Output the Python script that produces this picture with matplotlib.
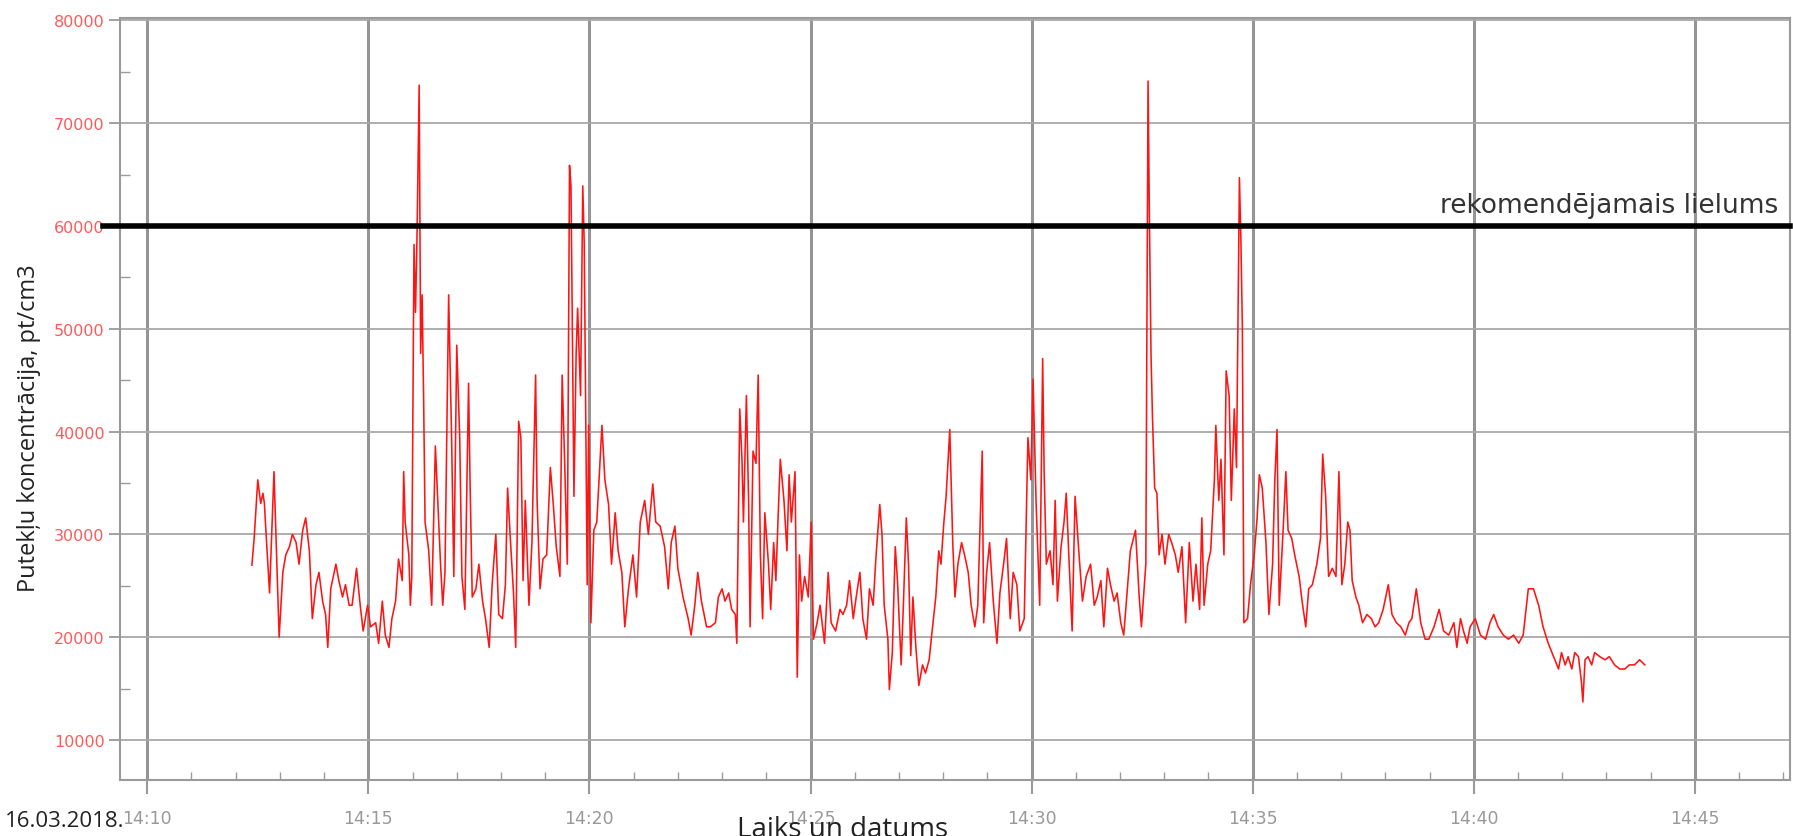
import matplotlib
matplotlib.use("Agg")
import matplotlib.pyplot as plt
import matplotlib.dates as mdates
import pandas as pd

# dust concentration log, 16.03.2018 - time as seconds after 14:00:00
t_sec = [
    742, 745, 750, 754, 757, 759, 761, 766, 772, 775, 779, 784, 788, 793, 797, 802,
    806, 811, 815, 820, 824, 829, 833, 838, 842, 845, 849, 856, 860, 865, 869, 874,
    878, 884, 889, 893, 899, 903, 910, 914, 919, 923, 928, 932, 937, 941, 946, 948,
    950, 955, 957, 959, 962, 964, 966, 969, 971, 973, 975, 977, 982, 986, 991, 993,
    998, 1001, 1004, 1009, 1013, 1016, 1020, 1024, 1027, 1031, 1036, 1038,
    1041, 1046, 1050, 1055, 1059, 1064, 1068, 1073, 1077, 1082, 1086, 1089, 1093, 1097,
    1100, 1104, 1107, 1110, 1113, 1118, 1122, 1127, 1129, 1133, 1137, 1142, 1147, 1151,
    1155, 1160, 1163, 1166, 1170, 1173, 1175, 1179, 1182, 1184, 1188, 1191, 1193, 1197,
    1199, 1202, 1206, 1210, 1217, 1221, 1226, 1230, 1235, 1239, 1244, 1248, 1253, 1259,
    1264, 1269, 1275, 1280, 1286, 1290, 1296, 1302, 1307, 1311, 1316, 1320, 1327, 1334,
    1338, 1343, 1347, 1352, 1359,
    1364, 1371, 1375, 1380, 1384, 1389, 1393, 1398, 1400, 1404, 1407, 1409, 1413, 1416,
    1418, 1422, 1426, 1429, 1432, 1435, 1438, 1443, 1446, 1450, 1453, 1456, 1459, 1464,
    1468, 1471, 1474, 1479, 1482, 1485, 1488, 1492, 1497, 1501, 1504, 1509, 1513, 1519,
    1524, 1528, 1534, 1540, 1544, 1549, 1553, 1558, 1562, 1567, 1571, 1576, 1580, 1585,
    1589, 1594, 1597, 1600, 1605, 1607, 1611, 1615, 1618, 1623, 1626, 1630, 1633, 1636,
    1639, 1643, 1647, 1652, 1656, 1661, 1665, 1670, 1674, 1677, 1681, 1684,
    1689, 1693, 1696, 1700, 1705, 1709, 1714, 1718, 1723, 1727, 1733, 1735, 1739, 1743,
    1748, 1753, 1757, 1762, 1766, 1771, 1775, 1780, 1784, 1790, 1795, 1799, 1802, 1806,
    1811, 1815, 1817, 1820, 1825, 1829, 1832, 1835, 1840, 1844, 1847, 1851, 1855, 1859,
    1864, 1869, 1874, 1880, 1885, 1889, 1894, 1898, 1903, 1907, 1912, 1916, 1921, 1925,
    1930, 1934, 1941, 1946, 1949, 1955, 1958, 1960, 1962, 1964, 1967, 1970, 1973, 1977,
    1981, 1986, 1990, 1995, 1999, 2004, 2009,
    2014, 2019, 2023, 2028, 2031, 2034, 2039, 2043, 2048, 2050, 2054, 2057, 2061, 2064,
    2068, 2071, 2075, 2078, 2082, 2084, 2086, 2088, 2093, 2097, 2102, 2106, 2109, 2113,
    2118, 2122, 2127, 2130, 2133, 2136, 2141, 2145, 2148, 2153, 2157, 2163, 2167, 2172,
    2176, 2181, 2187, 2192, 2195, 2199, 2203, 2208, 2213, 2217, 2221, 2225, 2229, 2232,
    2235, 2240, 2244, 2249, 2255, 2261, 2266, 2271, 2277, 2284, 2289, 2295, 2301, 2307,
    2312, 2316, 2322, 2328, 2334,
    2339, 2346, 2353, 2359, 2366, 2373, 2377, 2382, 2386, 2391, 2395, 2402, 2409, 2416,
    2422, 2427, 2433, 2440, 2447, 2454, 2461, 2467, 2474, 2481, 2488, 2494, 2501, 2506,
    2510, 2515, 2519, 2524, 2528, 2533, 2537, 2542, 2546, 2548, 2551, 2555, 2560, 2564,
    2571, 2578, 2584, 2591, 2598, 2605, 2611, 2618, 2625, 2632,
]
conc = [
    27000, 29500, 35300, 33000, 34000, 33000, 30400, 24300, 36100, 29200, 20000, 26300,
    28000, 28800, 30000, 29200, 27100, 30400, 31600, 28400, 21800, 25100, 26300, 23500,
    22200, 19000, 24700, 27100, 25500, 23900, 25100, 23100, 23100, 26700, 23100, 20600,
    23100, 21000, 21400, 19400, 23500, 20200, 19000, 21800, 23500, 27600, 25500, 36100,
    31200, 28000, 23100, 25900, 58200, 51600, 58600, 73700, 47600, 53300, 43500, 31200,
    28400, 23100, 38600, 35300, 27100, 23100, 26300, 53300, 39400, 25900, 48400, 39400,
    25900, 22700, 44700, 35300,
    23900, 24700, 27100, 23500, 21800, 19000, 25100, 30000, 22200, 21800, 25100, 34500,
    29200, 24300, 19000, 41000, 39400, 25500, 33300, 23100, 29200, 45500, 33300, 24700,
    27600, 28000, 36500, 32900, 28800, 25900, 45500, 38100, 27100, 65900, 63900, 33700,
    47600, 52000, 43500, 63900, 58200, 25100, 40600, 21400, 30400, 31200, 40600, 35300,
    32900, 27100, 32100, 28400, 26300, 21000, 24700, 28000, 23900, 31200, 33300, 30000,
    34900, 31200, 30800, 28800, 24700, 29200, 30800, 26700, 23900, 21800, 20200, 23100,
    26300, 23500, 21000,
    21000, 21400, 23900, 24700, 23500, 24300, 22700, 22200, 19400, 42200, 37300, 31200,
    43500, 33300, 21000, 38100, 36900, 45500, 28000, 21800, 32100, 27100, 22700, 29200,
    25500, 31600, 37300, 33300, 28400, 35800, 31200, 36100, 16100, 28000, 23500, 25900,
    23900, 31200, 19800, 21400, 23100, 19400, 26300, 21400, 20600, 22700, 22200, 23100,
    25500, 21800, 23900, 26300, 21800, 19800, 24700, 23100, 28000, 32900, 30000, 23100,
    19800, 14900, 18500, 28800, 25500, 17300, 23100, 31600, 27100, 18200, 23900, 19000,
    15300, 17300, 16500, 17800, 20600, 23900, 28400, 27100, 31200, 33700,
    40200, 29200, 23900, 27100, 29200, 28000, 26300, 23100, 21000, 23100, 38100, 21400,
    26300, 29200, 23500, 19400, 24300, 27100, 29600, 21800, 26300, 25100, 20600, 21800,
    39400, 35300, 45100, 33300, 23100, 47100, 36100, 27100, 28400, 25100, 33300, 23500,
    28800, 31200, 34000, 27100, 20600, 33700, 28400, 23500, 25900, 27100, 23100, 23900,
    25500, 21000, 26700, 25100, 23500, 24300, 21400, 20200, 24700, 28400, 30400, 23900,
    21000, 27100, 74100, 59800, 47600, 41400, 34500, 34000, 28000, 30000, 27100, 30000,
    29200, 28000, 26300, 28800, 21400,
    29200, 23500, 27100, 22700, 31600, 23100, 27100, 28400, 35300, 40600, 33300, 37300,
    28000, 45900, 43500, 33300, 42200, 36500, 64700, 58600, 50000, 21400, 21800, 25100,
    28000, 31600, 35800, 34500, 29200, 22200, 27100, 35300, 40200, 23100, 30000, 36100,
    30400, 29600, 28000, 25900, 23500, 21000, 24700, 25100, 27100, 29600, 37800, 33700,
    25900, 26700, 25900, 36100, 25100, 27100, 31200, 30400, 25500, 23900, 23100, 21400,
    22200, 21800, 21000, 21400, 22700, 25100, 22200, 21400, 21000, 20200, 21400, 21800,
    24700, 21400, 19800,
    19800, 21000, 22700, 20600, 20200, 21400, 19000, 21800, 20600, 19400, 21000, 21800,
    20200, 19800, 21400, 22200, 21000, 20200, 19800, 20200, 19400, 20200, 24700, 24700,
    23100, 21000, 19400, 18500, 17800, 16900, 18500, 17300, 18100, 16900, 18500, 18100,
    15700, 13700, 17800, 18100, 17300, 18500, 18100, 17800, 18100, 17300, 16900, 16900,
    17300, 17300, 17800, 17300,
]

limit = 60000
limit_label = "rekomendējamais lielums"
y_ticks = [10000, 20000, 30000, 40000, 50000, 60000, 70000, 80000]
y_label = "Putekļu koncentrācija, pt/cm3"
x_label = "Laiks un datums"
date_label = "16.03.2018."

base = pd.Timestamp("2018-03-16 14:00:00")
times = base + pd.to_timedelta(t_sec, unit="s")

fig = plt.figure(figsize=(17.93, 8.37), dpi=100)
ax = fig.add_axes([0.0669, 0.0669, 0.9314, 0.9100])

ax.plot(times, conc, color="#ff1414", lw=1.15)
ax.axhline(limit, xmin=-0.01, xmax=1, color="black", lw=4, zorder=3, clip_on=False)
ax.annotate(limit_label, xy=(0.993, limit), xycoords=("axes fraction", "data"),
            xytext=(0, 6), textcoords="offset points", ha="right", va="bottom",
            fontsize=19, color="#333333")

ax.set_xlim(base + pd.Timedelta(seconds=563), base + pd.Timedelta(seconds=2829))
ax.set_ylim(6100, 80200)

ax.xaxis.set_major_locator(mdates.MinuteLocator(byminute=range(0, 60, 5)))
ax.xaxis.set_minor_locator(mdates.MinuteLocator())
ax.xaxis.set_major_formatter(mdates.DateFormatter("%H:%M"))
ax.set_yticks(y_ticks)
ax.set_yticks(range(15000, 80000, 10000), minor=True)

ax.grid(axis="x", which="major", color="#959595", lw=2.2)
ax.grid(axis="y", which="major", color="#a8a8a8", lw=1.3)
ax.set_axisbelow(True)

ax.tick_params(axis="x", which="major", direction="out", length=10, width=1.5,
               color="#9a9a9a", labelsize=12.5, labelcolor="#999999", pad=11)
ax.tick_params(axis="x", which="minor", direction="in", length=6, width=1,
               color="#9a9a9a")
ax.tick_params(axis="y", which="major", direction="out", length=8, width=1.3,
               color="#9a9a9a", labelsize=11.5, labelcolor="#ff5a5a", pad=3)
ax.tick_params(axis="y", which="minor", direction="in", length=7, width=1,
               color="#9a9a9a")
for s in ax.spines.values():
    s.set_color("#9a9a9a")
    s.set_linewidth(1.5)

fig.text(0.016, 0.489, y_label, rotation=90, ha="center", va="center",
         fontsize=17, family="Open Sans", color="#222222")
fig.text(0.47, 0.0005, x_label, ha="center", va="baseline", fontsize=20,
         family="Open Sans", color="#222222")
fig.text(0.003, 0.019, date_label, ha="left", va="center", fontsize=16,
         family="Open Sans", color="#222222")

fig.savefig("out.png", dpi=100)
